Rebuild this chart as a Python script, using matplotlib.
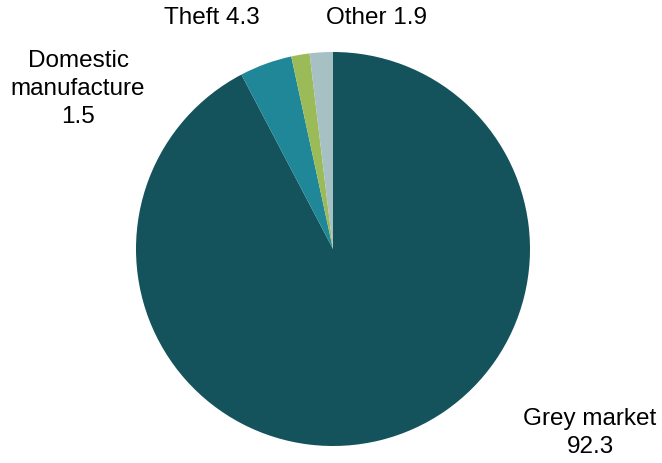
import matplotlib
matplotlib.use("Agg")
import matplotlib.pyplot as plt

categories = ["Grey market", "Theft", "Domestic\nmanufacture", "Other"]
values = [92.3, 4.3, 1.5, 1.9]
colors = ["#14525c", "#1f8797", "#9bbb59", "#a6c0c3"]

plt.rcParams["font.family"] = ["Liberation Sans", "DejaVu Sans"]

fig = plt.figure(figsize=(6.62, 4.63), dpi=100)
W, H = 662, 463
cx, cy, r = 333, 249, 197
ax = fig.add_axes([(cx - r) / W, (H - cy - r) / H, 2 * r / W, 2 * r / H])
ax.pie(values, colors=colors, startangle=90, counterclock=False,
       radius=1.0, wedgeprops=dict(linewidth=0))
ax.set_xlim(-1, 1)
ax.set_ylim(-1, 1)
ax.set_aspect("equal")
ax.axis("off")

# label anchors in figure pixels (centre of each text block)
label_pos = {
    "Grey market": (590, 433),
    "Theft": (212, 18),
    "Domestic\nmanufacture": (78, 89),
    "Other": (376, 18),
}
for cat, val in zip(categories, values):
    x, y = label_pos[cat]
    if cat in ("Theft", "Other"):
        txt = f"{cat} {val}"
    else:
        txt = f"{cat}\n{val}"
    fig.text(x / W, 1 - y / H, txt, ha="center", va="center",
             fontsize=17.5, linespacing=1.38, color="#000000")

fig.savefig("out.png", dpi=100)
